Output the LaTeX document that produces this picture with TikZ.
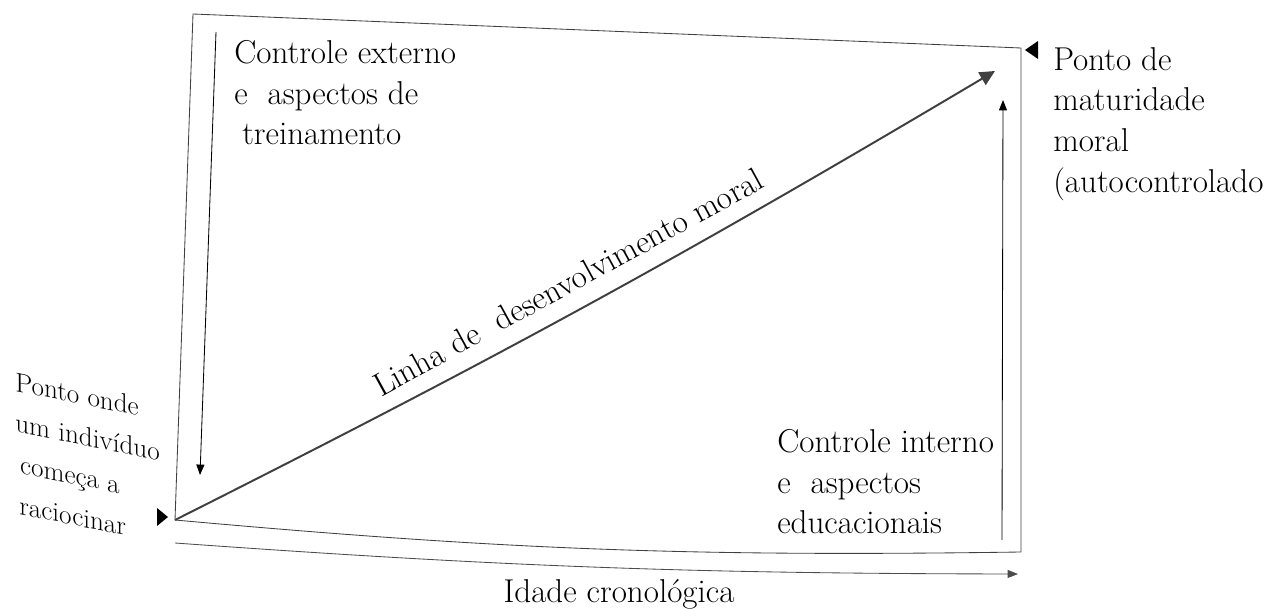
\documentclass[tikz,border=0pt]{standalone}
\usepackage{tikz}
\usetikzlibrary{arrows.meta,positioning}
\tikzset{
    boxline/.style={draw=black!75, line width=0.6pt},
    guide/.style={-{Triangle[length=2.6mm,width=2mm]}, line width=0.6pt},
    growth/.style={-{Triangle[length=3.8mm,width=3.6mm]}, draw=black!75, line width=1.4pt},
    txt/.style={font=\fontsize{23.5}{29}\selectfont, align=left, inner sep=0pt},
    smalltxt/.style={font=\fontsize{19.3}{29}\selectfont, align=left, inner sep=0pt}
}

\begin{document}
\begin{tikzpicture}[x=0.025cm, y=-0.025cm]
    \useasboundingbox (0,0) rectangle (1264,609);

    \coordinate (tl) at (193,14);
    \coordinate (tr) at (1021,48);
    \coordinate (br) at (1021,552);
    \coordinate (bl) at (175,520);
    \draw[boxline] (tl) -- (tr) -- (br) to[bend left=3] (bl) -- cycle;

    \coordinate (peak) at (995,71);
    \draw[growth] (bl) to[bend right=2] node[pos=0.49, sloped, above=0.42cm, txt] (devlbl) {Linha de\ \ desenvolvimento moral} (peak);

    \coordinate (extop) at (216,32);
    \coordinate (exbot) at (200,475);
    \draw[guide] (extop) -- (exbot);
    \coordinate (inbot) at (1002,540);
    \coordinate (intop) at (1003,100);
    \draw[guide] (inbot) -- (intop);

    \coordinate (agestart) at (175,543);
    \coordinate (ageend) at (1018,574);
    \draw[guide, draw=black!70] (agestart) to[bend right=2] (ageend);
    \node[txt, anchor=base] (age) at (619,603) {Idade cronológica};

    \coordinate (startmk) at (168,517);
    \fill (startmk) -- ++(-11,-9) -- ++(0,18) -- cycle;
    \coordinate (endmk) at (1025,50);
    \fill (endmk) -- ++(13,-9) -- ++(0,18) -- cycle;

    \node[txt, anchor=north west] (ext) at (234,40) {Controle externo\\e\ \ aspectos de\\\hspace{0.2cm}treinamento};
    \node[txt, anchor=north west] (mature) at (1053,47) {Ponto de\\maturidade\\moral\\(autocontrolado)};
    \node[txt, anchor=north west] (int) at (777,429) {Controle interno\\e\ \ aspectos\\educacionais};
    \node[smalltxt, anchor=north west, yslant=-0.2] (start) at (15,372) {Ponto onde\\um indivíduo\\\hspace{0.12cm}começa a\\\hspace{0.1cm}raciocinar};
\end{tikzpicture}
\end{document}
